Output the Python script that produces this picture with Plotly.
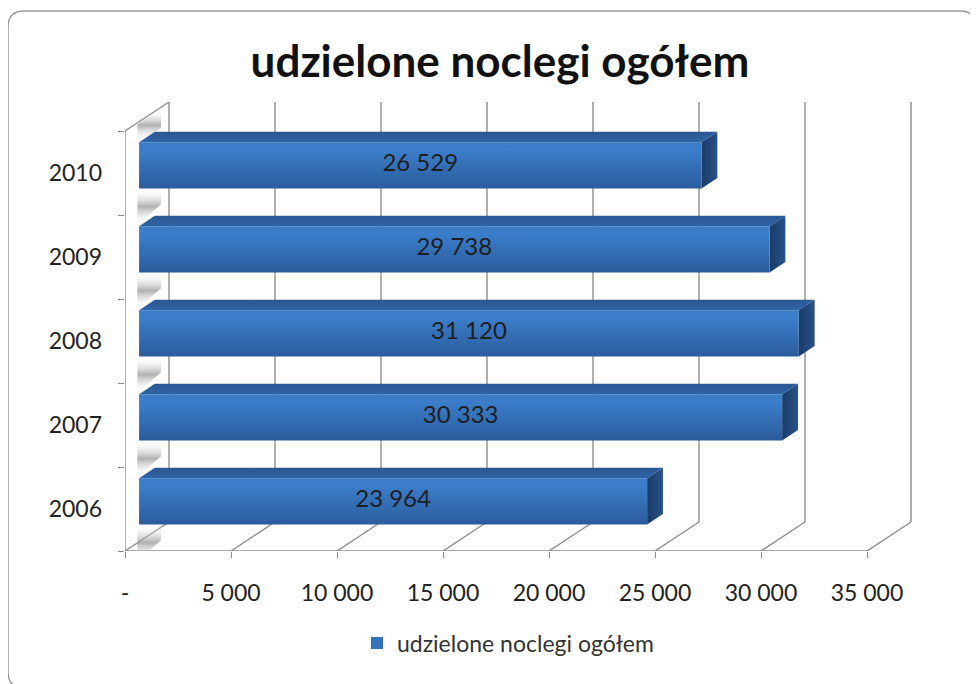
import plotly.graph_objects as go

# ---- data ----
years = ["2006", "2007", "2008", "2009", "2010"]
values = [23964, 30333, 31120, 29738, 26529]
x_ticks = [0, 5000, 10000, 15000, 20000, 25000, 30000, 35000]
x_tick_labels = ["-", "5 000", "10 000", "15 000", "20 000", "25 000", "30 000", "35 000"]
series_name = "udzielone noclegi ogółem"
title_text = "udzielone noclegi ogółem"

# ---- pseudo-3D geometry (in axis units) ----
DX = 2075.0    # depth offset along value axis
DY = 0.345     # depth offset along category axis
D1, D2 = 0.32, 0.68   # bar front / back depth
B_OFF, B_W = 0.205, 0.55

def P(v, c, d):
    return v + DX * d, c + DY * d

GRID = "#8c8c8c"
FONT = "Lato"
OFF = 8  # page body margin

fig = go.Figure()

def poly(points, colorscale, gtype="vertical"):
    xs = [p[0] for p in points] + [points[0][0]]
    ys = [p[1] for p in points] + [points[0][1]]
    fig.add_trace(go.Scatter(
        x=xs, y=ys, mode="lines", fill="toself",
        fillgradient=dict(type=gtype, colorscale=colorscale),
        line=dict(width=0, color="rgba(0,0,0,0)"),
        hoverinfo="skip", showlegend=False))

# wall shading below each bar end (and above the top bar)
n = len(years)
shade = [[0, "rgba(255,255,255,0)"], [0.5, "rgba(150,150,150,0.75)"], [1, "rgba(255,255,255,0)"]]
for i in range(n):
    cb = i + B_OFF
    pts = [P(0, cb, 0.28), P(0, cb - 0.17, 0.82), P(0, cb - 0.36, 0.82), P(0, cb - 0.42, 0.28)]
    poly(pts, shade)
top_c = n
pts = [P(0, top_c - 0.02, 0.28), P(0, top_c - 0.02, 0.82), P(0, top_c - 0.25, 0.82), P(0, top_c - 0.22, 0.28)]
poly(pts, shade)

# bars
for i, v in enumerate(values):
    cb, ct = i + B_OFF, i + B_OFF + B_W
    front = [P(0, cb, D1), P(v, cb, D1), P(v, ct, D1), P(0, ct, D1)]
    top = [P(0, ct, D1), P(v, ct, D1), P(v, ct, D2), P(0, ct, D2)]
    side = [P(v, cb, D1), P(v, cb, D2), P(v, ct, D2), P(v, ct, D1)]
    poly(top, [[0, "#2f64a6"], [1, "#2a5892"]])
    poly(side, [[0, "#1b3b68"], [1, "#27528a"]], gtype="horizontal")
    poly(front, [[0, "#2b5c9c"], [0.55, "#3572ba"], [0.85, "#3c7ecb"], [1, "#3a7bc6"]])

# value labels
lx, ly, lt = [], [], []
for i, v in enumerate(values):
    x, y = P(v / 2, i + B_OFF + B_W / 2, D1)
    lx.append(x); ly.append(y); lt.append(f"{v:,}".replace(",", " "))
fig.add_trace(go.Scatter(x=lx, y=ly, mode="text", text=lt,
                         textfont=dict(family=FONT, size=24, color="#1e1e1e"),
                         hoverinfo="skip", showlegend=False, cliponaxis=False))

# legend entry
fig.add_trace(go.Bar(x=[None], y=[None], name=series_name, orientation="h",
                     marker=dict(color="#3470bb", line=dict(width=0))))

# gridlines / walls as shapes
shapes = []
def seg(a, b, w=1.4):
    shapes.append(dict(type="line", xref="x", yref="y", x0=a[0], y0=a[1], x1=b[0], y1=b[1],
                       line=dict(color=GRID, width=w), layer="below"))
for t in x_ticks:
    seg(P(t, 0, 0), P(t, 0, 1))           # floor diagonal
    seg(P(t, 0, 1), P(t, n, 1))           # back wall vertical
seg(P(0, 0, 0), P(x_ticks[-1], 0, 0))     # front floor edge
seg(P(0, 0, 0), P(0, n, 0))               # left wall front edge
seg(P(0, n, 0), P(0, n, 1))               # left wall top diagonal

# layout in figure pixels (screen minus body margin)
PL, PR, PT, PB = 125 - OFF, 930 - OFF, 80 - OFF, 551 - OFF
def px(x): return (x - OFF - PL) / (PR - PL)
def py(y): return (PB - (y - OFF)) / (PB - PT)
x0b, x1b, y0b, y1b, r = 8, 976, 11, 688, 16
path = (f"M {px(x0b+r)},{py(y0b)} L {px(x1b-r)},{py(y0b)} "
        f"Q {px(x1b)},{py(y0b)} {px(x1b)},{py(y0b+r)} "
        f"L {px(x1b)},{py(y1b-r)} Q {px(x1b)},{py(y1b)} {px(x1b-r)},{py(y1b)} "
        f"L {px(x0b+r)},{py(y1b)} Q {px(x0b)},{py(y1b)} {px(x0b)},{py(y1b-r)} "
        f"L {px(x0b)},{py(y0b+r)} Q {px(x0b)},{py(y0b)} {px(x0b+r)},{py(y0b)} Z")
shapes.append(dict(type="path", xref="paper", yref="paper", path=path,
                   line=dict(color="#9a9a9a", width=1.5), layer="below"))

fig.update_layout(
    width=978, height=684, autosize=False,
    margin=dict(l=PL, r=978 - PR, t=PT, b=684 - PB),
    paper_bgcolor="white", plot_bgcolor="rgba(0,0,0,0)",
    title=dict(text=f"<b>{title_text}</b>", x=(500 - OFF) / 978, xanchor="center",
               y=1 - (62 - OFF) / 684, yanchor="middle",
               font=dict(family=FONT, size=44, color="#111111")),
    shapes=shapes,
    showlegend=True,
    legend=dict(orientation="h", x=px(508), xanchor="center", y=py(643), yanchor="middle",
                font=dict(family=FONT, size=23, color="#333333"), bgcolor="rgba(0,0,0,0)"),
    xaxis=dict(range=[0, (PR - PL) / 0.0212], showgrid=False, zeroline=False, showline=False,
               tickvals=x_ticks, ticktext=x_tick_labels, ticks="outside", ticklen=6,
               tickcolor=GRID, tickwidth=1.4, ticklabelstandoff=15,
               tickfont=dict(family=FONT, size=23, color="#222222")),
    yaxis=dict(range=[0, (PB - PT) / 84], showgrid=False, zeroline=False, showline=False,
               tickvals=[i + 0.5 for i in range(n)], ticktext=years, ticks="",
               ticklabelstandoff=22,
               tickfont=dict(family=FONT, size=23, color="#222222"),
               minor=dict(tickvals=list(range(n + 1)), ticks="outside", ticklen=6,
                          tickcolor=GRID, tickwidth=1.4, showgrid=False)),
)

fig.write_html("out.html")
